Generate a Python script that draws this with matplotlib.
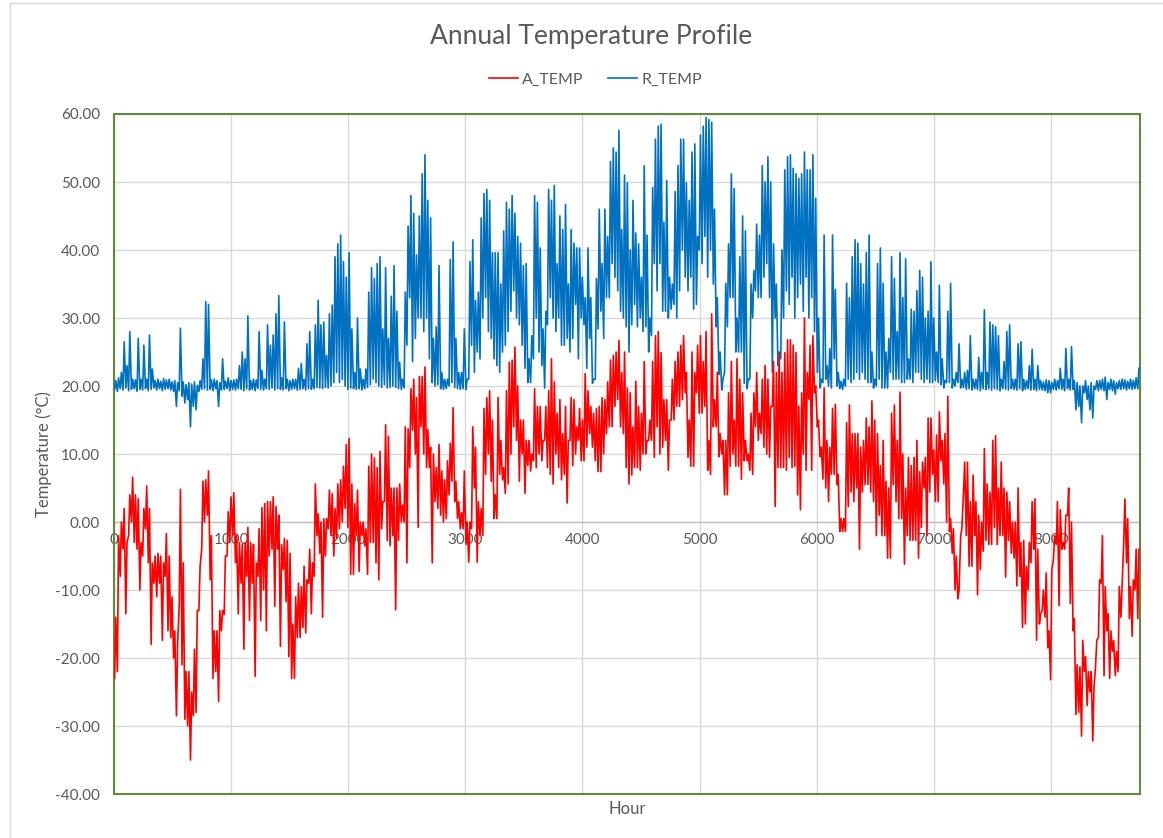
import numpy as np
import matplotlib.pyplot as plt
from matplotlib.patches import Rectangle

plt.rcParams['font.family'] = ['Lato', 'DejaVu Sans']

# daily low / high of ambient temperature (A_TEMP), one value per day
a_temp_hi = [
    -14, -2, 0, 2, -3, 4, 6.6, 4, 3.4, -3,
    2, 5.3, 2, -6, -5, -4.6, -5, -6, -1.7, -5,
    -11, -16, -18, 4.8, -6, -22, -22, -25, -18.7, -13,
    -6.5, 6, 6.2, 7.5, -2, -16, -16, -13, -13, -5,
    1.5, 3.7, 4.3, -2, -3, -3.3, -3, -0.8, -3, -3.3,
    -6, -1, 2.1, 2.7, 3, 3, 3.7, 2.3, 1, -3.3,
    -2.4, -2.7, -4.6, -15, -11, -9, -9.5, -6.5, -8.5, -4,
    -6, 5.6, 1.2, 0, 0.5, 0.5, 4.7, 4.2, 2, 5.6,
    6.2, 8.2, 11.4, 12.3, 5.6, 2.7, 4.7, 0, 0, -1,
    8.2, 10, 9.4, 8, 10.4, 3, 14.3, 12.6, 5, 5,
    5, 5.6, 2.5, 14, 13.7, 19.6, 21, 18.3, 21.4, 21.4,
    22.8, 13.6, 11, 10, 8, 11.4, 7.5, 6.2, 9, 11.6,
    16.8, 6, 3, 1.4, 7.5, 0, 0, 14, 11, 3,
    2, 16.7, 18.3, 19.3, 15, 4, 18.3, 12, 8, 19.3,
    23.5, 23.8, 25.7, 20, 15, 15, 12, 12, 10, 19.6,
    17, 17, 12, 17, 19.3, 24, 20.6, 16, 18, 13,
    17, 12, 18.3, 18, 14, 16.7, 15, 21.8, 19.3, 17,
    16, 16.7, 17, 18.3, 18, 20.6, 23.8, 24.5, 25, 26.7,
    22, 25, 19.7, 19, 14, 20.7, 17, 16, 23.6, 12,
    15, 23.6, 27.4, 28, 24.9, 18, 18, 15, 21, 23.6,
    25, 26, 27.4, 22, 15, 25, 22, 26, 27.4, 23.6,
    28, 12, 30.6, 18, 22, 13, 12, 12, 19, 23.6,
    15, 24, 21, 19, 12, 10, 16, 19, 22, 16,
    21, 23, 21, 17, 23.6, 22, 24.9, 22, 24.9, 26.8,
    26.8, 26, 24.9, 17, 19, 30, 22, 26, 27.4, 20,
    15, 11, 19.7, 12, 11, 16.7, 17.3, 7, 0.5, 0.5,
    14.6, 17.2, 13, 13, 13, 11, 12, 15.3, 14, 17.8,
    15, 13, 8.3, 12, 6, 5, 16, 17.2, 12, 19.1,
    10, 5, 9.5, 8.3, 9.5, 12, 7.4, 8.8, 9.5, 15.3,
    15.3, 10.6, 12.8, 16.2, 12, 13, 18.5, 0.5, -1, -5,
    -10, -1, 8.8, 8.8, 3, 6.9, 3, 1, 0, 10.8,
    5.6, 4.4, 12, 12.7, 5, 8.8, 5, 4.4, 3, 0,
    0, 5, -3, -2.7, -6.5, -3, 3, 3.4, -4, -13.5,
    -10, -7.5, -16, -7, -2, 3, 1.8, -3, 1, 5,
    0, -14.2, -21, -21.3, -17.4, -19.8, -22, -22, -24.4, -17.4,
    -8.5, -2, -9.5, -13.5, -16, -17.4, -19, -9.5, -9.5, 3.4,
    0.5, -9.5, -8.5, -4, -4,
]
a_temp_lo = [
    -23, -22, -8, -4, -13.5, -2, 0, -3, -4, -10,
    -5, -1, -6, -18, -9, -11, -9, -17.4, -8, -16,
    -17, -20, -28.5, -12, -21, -29, -30, -35, -28.5, -28,
    -13, -4, 0, 1, -8.5, -23, -22, -26.4, -16, -13.6,
    -5, -3, -2, -6, -13.5, -9, -18.7, -8, -14.5, -9,
    -22.7, -8, -14.5, -10, -16, -5, -4, -12.4, -4, -18.3,
    -7, -11.7, -19.8, -23, -23, -17, -17, -15.5, -16.3, -9,
    -13.5, -8, -2, -4.6, -14, -5, -1, -2, -5, -2.3,
    -1, 0, 2, -0.8, -7.7, -7.7, -2, -7.3, -2, -3.5,
    -7.7, -3, -3, -6, -8.5, -1, 3, -2.7, -3.5, -2,
    -12.9, -2.7, 0, 0, -6, 8, 13.5, 10, -0.8, 14,
    10, 8, 8, -6, 3, 2, 1, 0, 0.5, 4,
    6, 3, 0.5, -1, -1, -3.3, -5.9, -1, 5, -5.9,
    -2, -2, 7, 10, 6, 0.5, 0.5, 7, 6.2, 4.2,
    5.6, 10, 14, 12, 6, 10, 4.2, 8.3, 7.5, 9,
    8, 10, 9, 12, 8, 7, 5.6, 10, 8, 6.2,
    7, 2.8, 12, 8.3, 10, 12, 9, 9, 11, 13,
    11, 9, 7.4, 7.4, 10, 13, 14, 14, 17, 18,
    14, 13, 8, 5.6, 6.9, 8, 8, 7.6, 10, 10,
    12, 12, 9.5, 14, 10, 11, 12, 7.6, 15, 15,
    17, 17, 18, 19, 9.5, 8.2, 8.2, 19, 16, 16,
    17, 7.6, 7, 14, 14, 9.6, 10, 4, 4, 8.2,
    10, 8.2, 8.2, 6.3, 9, 9, 7.6, 7, 14, 12,
    13, 11, 10, 9.5, 17, 2.3, 8, 8, 8, 7.6,
    9.5, 8, 8.2, 4, 1.8, 10, 7.6, 18, 7.6, 19,
    14, 9.6, 6.3, 5, 3, 7, 7, 5.5, -1.4, -1.4,
    -1.4, 2.3, 4.4, 3, 5, -4, 4.4, 5.5, 5.5, 4.4,
    3, -2, 1, -2, -2, -5.3, -5.3, 5.5, 3, 0.5,
    0.5, -6.2, -2, -2.7, -2.7, -2.7, -5.3, -0.8, 5, -2,
    4.4, 7, 3, 3, 9, 5.6, 0, -1.4, -4.6, -10,
    -11.3, -2, 4.4, -2, -6.5, -6.5, -2, -10.7, -7, -4.3,
    -2.7, -3.3, -3.3, -0.8, -3.3, -2, -2, -8.1, -2.7, -4.6,
    -5.3, -9.4, -8, -15.5, -15, -10, -6, -4, -17.4, -15,
    -13, -14, -18.5, -23.2, -5.5, -3.3, -12.3, -4, -4, 1,
    -12, -16, -28.3, -28, -31.5, -22, -27, -25, -32.2, -21,
    -17, -9, -22.6, -16, -23, -19, -22.6, -22, -14, -3,
    -6, -14.2, -16.8, -10, -14.2,
]

# daily low / high of room temperature (R_TEMP)
r_temp_hi = [
    20.8, 21.2, 22, 26.5, 23, 28, 21, 20.9, 27, 21,
    26, 21, 27.5, 22.5, 20.8, 21, 20.7, 21.1, 20.9, 21,
    20.6, 20.8, 20.5, 28.5, 20.6, 20.2, 20.5, 20.3, 20.6, 20.1,
    20.8, 24, 32.4, 32, 20.9, 21, 20.8, 20.5, 24, 20.7,
    21.2, 20.8, 20.9, 21, 23, 25, 24, 30.3, 20.8, 21,
    20.9, 28, 22.3, 21, 29, 26, 27.5, 30.6, 33.3, 21.2,
    29.4, 21, 20.8, 21, 21, 22.6, 23.3, 21, 26.2, 28,
    21, 29, 32.6, 29, 29.4, 24.5, 30.6, 31.9, 39, 40.9,
    42.2, 38.3, 36, 39.6, 28.4, 22, 30, 22.5, 21, 22.5,
    33.8, 37.4, 35.8, 38, 39, 28.4, 37.4, 27, 33.2, 37.7,
    31, 23.5, 21, 33.8, 43.5, 48, 45.4, 39.3, 45, 51.2,
    54, 47.3, 44.7, 27, 28.7, 37.7, 22, 21, 21, 38.6,
    41.2, 27, 22, 22, 28.4, 21, 38.3, 41.5, 32.6, 33.8,
    44.7, 48.3, 48.9, 47.3, 39.6, 39.6, 39.6, 35, 42.8, 47,
    46, 48, 45.4, 42, 41, 37.7, 38, 24, 27.4, 48,
    47, 40.3, 28.4, 31, 48.9, 47.3, 49.5, 38, 45, 43,
    46.7, 35, 43, 41, 40.3, 40.3, 36, 33, 40.3, 33,
    21, 35.8, 46, 38, 46, 42, 53, 55, 54.4, 57.6,
    43, 51, 49.9, 40, 47.3, 42.5, 40.9, 36, 52.4, 42.2,
    30, 49.2, 56.3, 58.2, 58.5, 44.1, 50.2, 36, 35, 48.6,
    52.4, 56.3, 56.3, 49.9, 47.3, 54.4, 55.6, 42, 56.9, 58.2,
    59.5, 59.2, 58.8, 46, 33, 25, 21, 35.1, 40.9, 51.2,
    49, 30, 39, 45, 42.8, 21, 35, 37, 43.8, 42.2,
    52.4, 50, 53.7, 50, 40.9, 35, 25, 40, 51.8, 53.7,
    54, 52, 51.2, 50.5, 51.2, 54.4, 51.8, 51.8, 54, 47.6,
    30, 21, 42.2, 23, 25.5, 42.2, 34.2, 22, 20.7, 21,
    35.1, 33, 39, 41.5, 41, 38, 35, 39.6, 42.2, 25,
    21, 38, 40.3, 35.1, 25, 27, 39, 35.8, 28, 39.6,
    33, 38.7, 24, 31.3, 31, 34, 37, 36, 30, 31,
    38.3, 30, 25, 34.8, 24, 20.8, 31, 35.1, 21, 22,
    26.2, 21, 22, 22.3, 27.4, 21, 21, 24.2, 22, 31.2,
    22, 29.4, 29, 28.7, 27.4, 21, 23.6, 28, 29, 21,
    21, 26.2, 26.5, 21, 20.8, 23, 25.4, 21, 23, 20.8,
    20.6, 20.9, 20.8, 20.5, 21, 20.8, 22.6, 21, 25.5, 21,
    25.8, 20.8, 20.5, 20, 20, 20.8, 20, 20.5, 20, 20.8,
    20.8, 21, 21.3, 20.5, 21, 20.8, 20.5, 20.8, 21, 20.9,
    20.7, 21, 20.8, 21.2, 22.6,
]
r_temp_lo = [
    19.5, 19.2, 19.6, 19.4, 19.7, 19.3, 19.5, 19.6, 19.2, 19.5,
    19.4, 19.6, 19.3, 19.5, 19.7, 19.4, 19.6, 19.3, 19.5, 19.6,
    19.4, 19.2, 17, 19.3, 18.5, 17.5, 18, 14, 17, 16.5,
    19.2, 19.5, 19.6, 19.4, 19.5, 19.3, 19.6, 17, 19.4, 19.5,
    19.6, 19.3, 19.5, 19.4, 19.6, 19.5, 19.3, 19.6, 19.4, 19.5,
    19.3, 19.6, 19.5, 19.4, 19.6, 19.5, 19.7, 19.4, 19.6, 19.5,
    19.4, 19.6, 19.3, 19.5, 19.6, 19.4, 19.5, 19.6, 19.4, 19.6,
    19.5, 19.6, 19.8, 19.7, 19.6, 19.8, 19.7, 20, 20.5, 22,
    20.5, 21, 20, 19.5, 19.7, 19.6, 19.5, 19.6, 19.4, 19.6,
    19.8, 20.2, 21, 20.5, 20, 19.8, 20.2, 19.7, 19.8, 20,
    19.8, 19.6, 19.5, 19.7, 26, 33, 23.6, 27, 30, 30,
    28, 30, 24, 20.5, 20, 20.2, 19.6, 19.5, 19.6, 20,
    20.5, 19.8, 19.6, 19.5, 19.6, 19.5, 21, 26, 22, 25,
    24, 30, 33, 28, 27, 24, 23, 22, 25, 26,
    28, 31, 34, 30, 29, 26, 22.6, 20.5, 20.5, 24,
    30, 25, 23, 19.7, 29, 33, 30, 28, 30, 26,
    26, 27, 25, 27, 32, 24, 30, 29, 22.6, 27,
    20.4, 21, 28.4, 31, 27, 33, 33, 38, 36, 34,
    31, 30, 28.7, 25, 29, 32, 28.7, 30, 28, 28.7,
    25, 27.4, 38, 34, 38, 31, 31, 30, 31.3, 32,
    30, 34, 40, 36, 34, 36, 31.3, 32, 40, 38,
    42, 36, 40, 35, 28.7, 21.7, 19.4, 22, 28.7, 33,
    33, 25, 25, 25, 20.4, 19.6, 21, 30, 34, 33,
    33, 36, 38, 33, 22, 30, 23, 24, 30, 34,
    32, 36, 30, 33, 35, 31, 36, 30, 33, 28,
    22, 19.7, 20.5, 21, 20, 19.7, 24, 20, 19.6, 19.5,
    20, 21, 20.5, 21, 22, 21, 22, 21, 20.5, 20.5,
    19.7, 20, 21, 19.7, 19.7, 19.7, 22, 21, 21, 21,
    20.5, 20.5, 21, 21, 20.5, 22, 22, 21, 20.5, 21,
    20.5, 20.5, 20.8, 20.5, 20.2, 19.7, 20.5, 20.5, 19.7, 20,
    20.5, 19.7, 19.8, 19.5, 19.6, 19.4, 19.6, 19.5, 19.3, 19.6,
    19.5, 19.6, 19.4, 19.6, 19.5, 19.3, 19.6, 19.5, 19.4, 19.6,
    19.5, 19.4, 19.6, 19.3, 19.5, 19.6, 19.4, 19.5, 19.3, 19.5,
    19.4, 19.3, 19, 19, 19.5, 19.4, 19.6, 19.5, 19.3, 19.6,
    19.4, 19.5, 16.5, 17, 14.6, 19, 18, 16.5, 15.3, 19.5,
    19.3, 19.5, 19.3, 18, 19.5, 19.3, 18.8, 19.6, 19.5, 19.6,
    19.4, 19.6, 19.5, 19.6, 19.6,
]

x_ticks = [0, 1000, 2000, 3000, 4000, 5000, 6000, 7000, 8000]
y_ticks = [-40, -30, -20, -10, 0, 10, 20, 30, 40, 50, 60]


def daily_series(lo, hi):
    # low in the early morning, high in the afternoon of each day
    n = min(len(lo), len(hi))
    days = np.arange(n)
    hours = np.column_stack([days * 24 + 5, days * 24 + 15]).ravel()
    vals = np.column_stack([lo[:n], hi[:n]]).ravel()
    return hours, vals


grey = '#595959'
fig = plt.figure(figsize=(11.63, 8.38), dpi=100)
fig.patches.append(Rectangle((10 / 1163, -0.05), 1.2, 1.05 - 3 / 838, transform=fig.transFigure,
                             fill=False, edgecolor='#D9D9D9', lw=1))
ax = fig.add_axes([114 / 1163, 1 - 794 / 838, 1026 / 1163, 680 / 838])

hx, hy = daily_series(r_temp_lo, r_temp_hi)
ax.plot(hx, hy, color='#0070C0', lw=1.2, label='R_TEMP', zorder=3)
hx, hy = daily_series(a_temp_lo, a_temp_hi)
ax.plot(hx, hy, color='#FF0000', lw=1.2, label='A_TEMP', zorder=4)

ax.set_xlim(0, 8760)
ax.set_ylim(-40, 60)
ax.set_yticks(y_ticks)
ax.set_yticklabels([f'{v:.2f}' for v in y_ticks], color=grey, fontsize=11)
ax.set_xticks(x_ticks)
ax.set_xticklabels([])
ax.tick_params(length=0, pad=10)
ax.grid(True, color='#D9D9D9', lw=1)
ax.set_axisbelow(True)
ax.axhline(0, color='#BFBFBF', lw=1, zorder=2)
for t in x_ticks:
    ax.text(t, -1.6, str(t), ha='center', va='top', color=grey, fontsize=11, zorder=1)
for s in ax.spines.values():
    s.set_color('#5E8C3A')
    s.set_linewidth(1.5)

ax.set_xlabel('Hour', color=grey, fontsize=12, labelpad=-5)
ax.set_ylabel('Temperature (°C)', color=grey, fontsize=12, labelpad=2)

fig.text(0.508, 0.957, 'Annual Temperature Profile', ha='center', va='center',
         color=grey, fontsize=19)
h, l = ax.get_legend_handles_labels()
fig.legend(h[::-1], l[::-1], loc='center', bbox_to_anchor=(0.512, 0.905), ncol=2,
           frameon=False, fontsize=11.5, handlelength=1.8, handletextpad=0.3,
           columnspacing=1.5, labelcolor=grey)

fig.savefig('out.png', dpi=100)
